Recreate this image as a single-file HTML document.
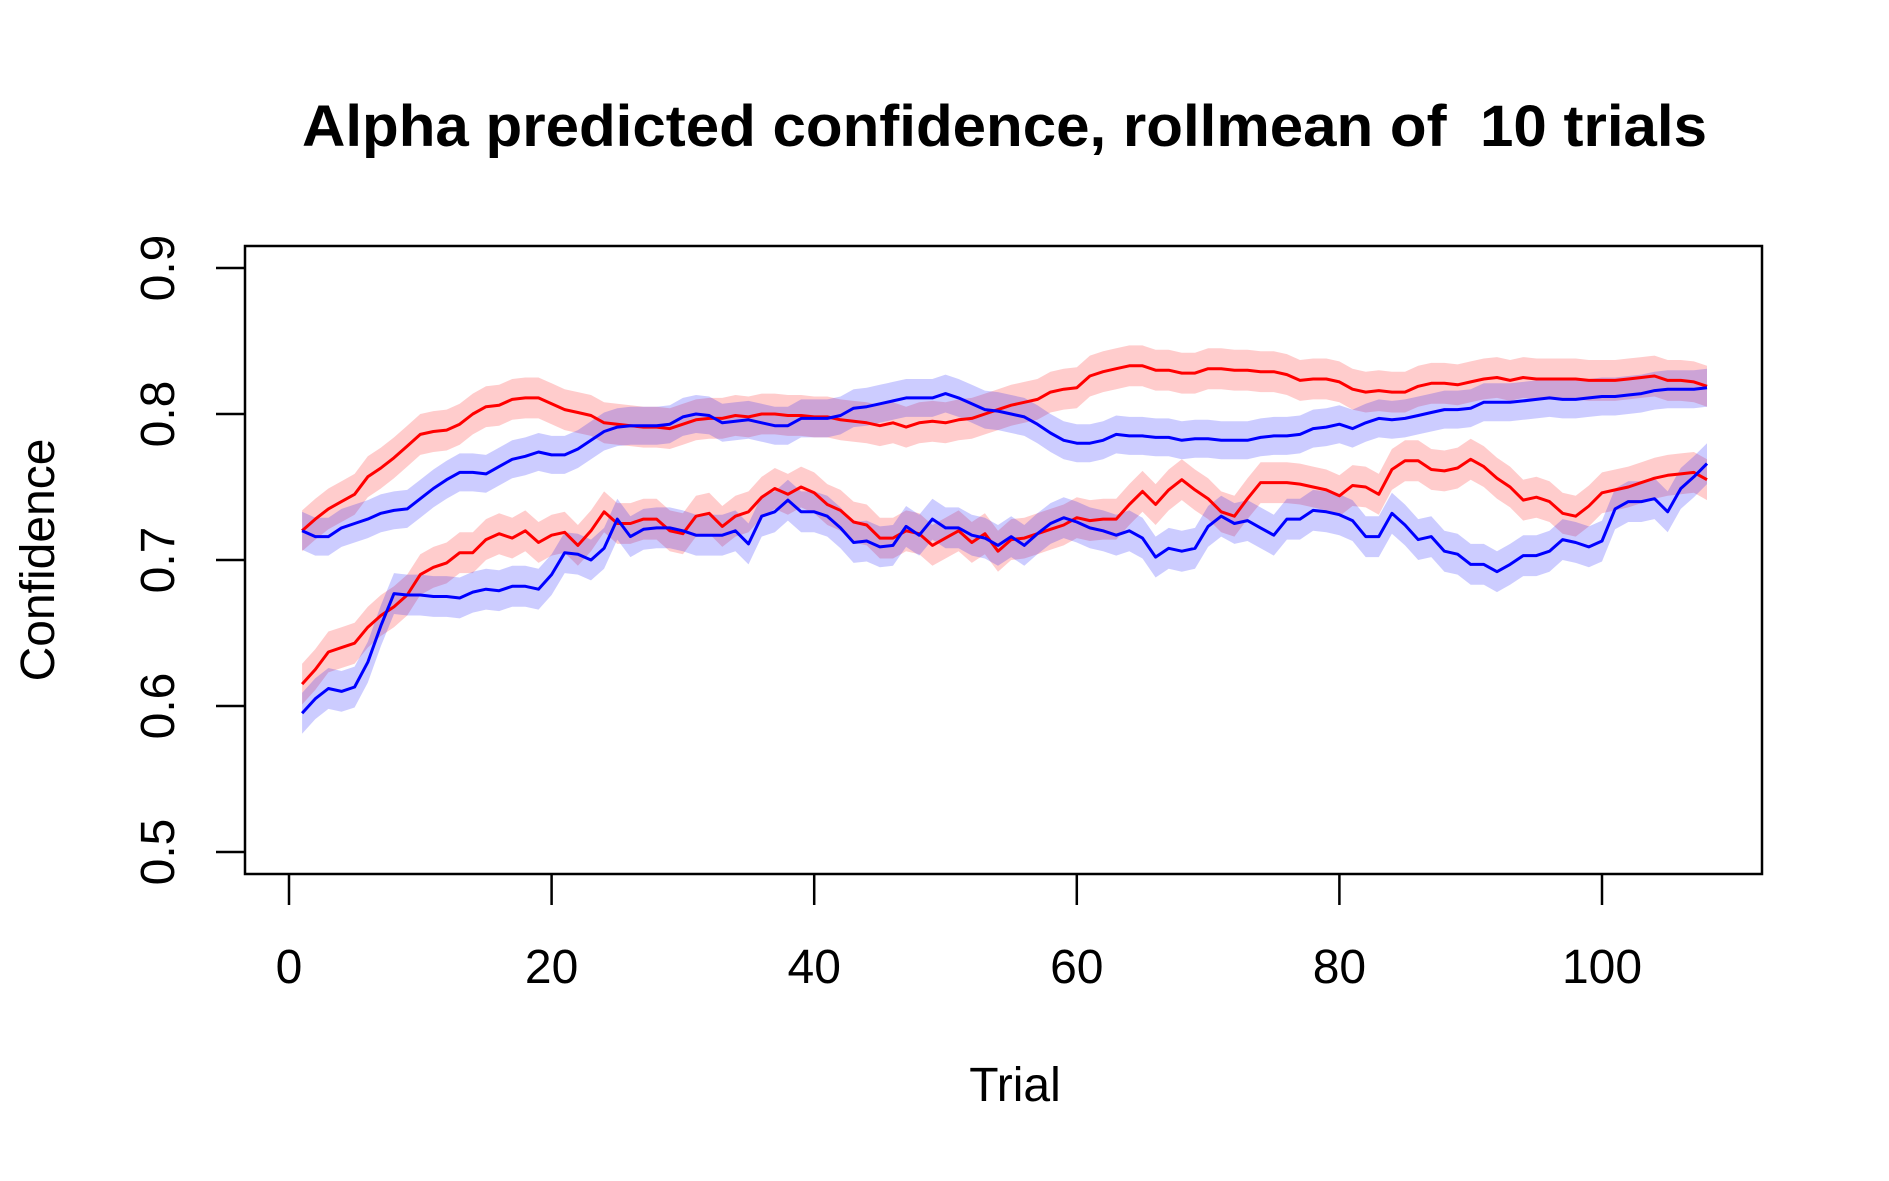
<!DOCTYPE html>
<html><head><meta charset="utf-8"><style>
html,body{margin:0;padding:0;background:#fff;}
svg{display:block;font-family:"Liberation Sans",Arial,sans-serif;}
</style></head><body>
<svg id="chart" width="1889" height="1181" viewBox="0 0 1889 1181">
<rect x="0" y="0" width="1889" height="1181" fill="#fff"/>
<text x="302" y="146" font-size="58" font-weight="bold" style="white-space:pre" textLength="1405" lengthAdjust="spacingAndGlyphs">Alpha predicted confidence, rollmean of&#160; 10 trials</text>
<g id="bands"></g>
<g id="lines"></g>
<rect x="245" y="246" width="1517" height="628" fill="none" stroke="#000" stroke-width="2.5"/>
<g id="xaxis"></g>
<g id="yaxis"></g>
<text x="1015" y="1101" font-size="48" text-anchor="middle">Trial</text>
<text transform="translate(54,560) rotate(-90)" font-size="48" text-anchor="middle">Confidence</text>
</svg>
<script>
const xTicks=[0,20,40,60,80,100];
const yTicks=[0.5,0.6,0.7,0.8,0.9];
const yTickLabels=["0.5","0.6","0.7","0.8","0.9"];
const upperRed=[0.720,0.728,0.735,0.740,0.745,0.757,0.763,0.770,0.778,0.786,0.788,0.789,0.793,0.800,0.805,0.806,0.810,0.811,0.811,0.807,0.803,0.801,0.799,0.794,0.793,0.792,0.791,0.791,0.790,0.793,0.796,0.797,0.797,0.799,0.798,0.800,0.800,0.799,0.799,0.798,0.798,0.796,0.795,0.794,0.792,0.794,0.791,0.794,0.795,0.794,0.796,0.797,0.800,0.803,0.806,0.808,0.810,0.815,0.817,0.818,0.826,0.829,0.831,0.833,0.833,0.830,0.830,0.828,0.828,0.831,0.831,0.830,0.830,0.829,0.829,0.827,0.823,0.824,0.824,0.822,0.817,0.815,0.816,0.815,0.815,0.819,0.821,0.821,0.820,0.822,0.824,0.825,0.823,0.825,0.824,0.824,0.824,0.824,0.823,0.823,0.823,0.824,0.825,0.826,0.823,0.823,0.822,0.819];
const upperBlue=[0.720,0.716,0.716,0.722,0.725,0.728,0.732,0.734,0.735,0.742,0.749,0.755,0.760,0.760,0.759,0.764,0.769,0.771,0.774,0.772,0.772,0.776,0.782,0.788,0.791,0.792,0.792,0.792,0.793,0.798,0.800,0.799,0.794,0.795,0.796,0.794,0.792,0.792,0.797,0.797,0.797,0.799,0.804,0.805,0.807,0.809,0.811,0.811,0.811,0.814,0.811,0.807,0.803,0.802,0.800,0.798,0.793,0.787,0.782,0.780,0.780,0.782,0.786,0.785,0.785,0.784,0.784,0.782,0.783,0.783,0.782,0.782,0.782,0.784,0.785,0.785,0.786,0.790,0.791,0.793,0.790,0.794,0.797,0.796,0.797,0.799,0.801,0.803,0.803,0.804,0.808,0.808,0.808,0.809,0.810,0.811,0.810,0.810,0.811,0.812,0.812,0.813,0.814,0.816,0.817,0.817,0.817,0.818];
const lowerRed=[0.615,0.625,0.637,0.640,0.643,0.654,0.662,0.668,0.676,0.690,0.695,0.698,0.705,0.705,0.714,0.718,0.715,0.720,0.712,0.717,0.719,0.710,0.720,0.733,0.725,0.725,0.728,0.728,0.720,0.718,0.730,0.732,0.723,0.730,0.733,0.743,0.749,0.745,0.750,0.746,0.738,0.734,0.726,0.724,0.715,0.715,0.720,0.718,0.710,0.715,0.720,0.712,0.718,0.706,0.714,0.715,0.718,0.721,0.724,0.729,0.727,0.728,0.728,0.738,0.747,0.738,0.748,0.755,0.748,0.742,0.733,0.730,0.742,0.753,0.753,0.753,0.752,0.750,0.748,0.744,0.751,0.750,0.745,0.762,0.768,0.768,0.762,0.761,0.763,0.769,0.764,0.756,0.750,0.741,0.743,0.740,0.732,0.730,0.737,0.746,0.748,0.750,0.753,0.756,0.758,0.759,0.760,0.755];
const lowerBlue=[0.595,0.605,0.612,0.610,0.613,0.630,0.655,0.677,0.676,0.676,0.675,0.675,0.674,0.678,0.680,0.679,0.682,0.682,0.680,0.690,0.705,0.704,0.700,0.708,0.728,0.716,0.721,0.722,0.722,0.720,0.717,0.717,0.717,0.720,0.711,0.730,0.733,0.741,0.733,0.733,0.730,0.722,0.712,0.713,0.709,0.710,0.723,0.717,0.728,0.722,0.722,0.717,0.715,0.710,0.716,0.710,0.718,0.725,0.729,0.726,0.722,0.720,0.717,0.720,0.715,0.702,0.708,0.706,0.708,0.723,0.730,0.725,0.727,0.722,0.717,0.728,0.728,0.734,0.733,0.731,0.727,0.716,0.716,0.732,0.724,0.714,0.716,0.706,0.704,0.697,0.697,0.692,0.697,0.703,0.703,0.706,0.714,0.712,0.709,0.713,0.735,0.740,0.740,0.742,0.733,0.749,0.757,0.766];
const bandHalf=[0.014,0.013,0.014,0.014];
const seriesNames=["upper-red","upper-blue","lower-red","lower-blue"];
const seriesData=[upperRed,upperBlue,lowerRed,lowerBlue];
const seriesColors=["#ff0000","#0000ff","#ff0000","#0000ff"];
const bandColors=["rgba(255,0,0,0.2)","rgba(0,0,255,0.2)","rgba(255,0,0,0.2)","rgba(0,0,255,0.2)"];

const NS="http://www.w3.org/2000/svg";
function xs(v){return 289+13.13*v;}
function ys(v){return 852-(v-0.5)*1460;}
function mk(tag,attrs,parent){const e=document.createElementNS(NS,tag);for(const k in attrs)e.setAttribute(k,attrs[k]);parent.appendChild(e);return e;}

const bandG=document.getElementById('bands'),lineG=document.getElementById('lines');
seriesData.forEach((arr,si)=>{
  const h=bandHalf[si];
  let top=arr.map((v,i)=>xs(i+1).toFixed(1)+','+ys(v+h).toFixed(1));
  let bot=arr.map((v,i)=>xs(i+1).toFixed(1)+','+ys(v-h).toFixed(1)).reverse();
  const b=mk('polygon',{points:top.concat(bot).join(' '),fill:bandColors[si],stroke:'none'},bandG);
  
  
});
seriesData.forEach((arr,si)=>{
  const pts=arr.map((v,i)=>xs(i+1).toFixed(1)+','+ys(v).toFixed(1)).join(' ');
  const l=mk('polyline',{points:pts,fill:'none',stroke:seriesColors[si],'stroke-width':3,'stroke-linejoin':'round'},lineG);
  
  
});
const xg=document.getElementById('xaxis');
xTicks.forEach(t=>{
  const tk=mk('line',{x1:xs(t),x2:xs(t),y1:874,y2:905,stroke:'#000','stroke-width':2.5},xg);
  
  
  const tx=mk('text',{x:xs(t),y:983,'font-size':48,'text-anchor':'middle'},xg);
  tx.textContent=String(t);
  
  
});
const yg=document.getElementById('yaxis');
yTicks.forEach((t,i)=>{
  const tk=mk('line',{x1:216,x2:245,y1:ys(t),y2:ys(t),stroke:'#000','stroke-width':2.5},yg);
  
  
  const tx=mk('text',{transform:'translate(174,'+ys(t)+') rotate(-90)','font-size':48,'text-anchor':'middle'},yg);
  tx.textContent=yTickLabels[i];
  
  
});
</script>
</body></html>
